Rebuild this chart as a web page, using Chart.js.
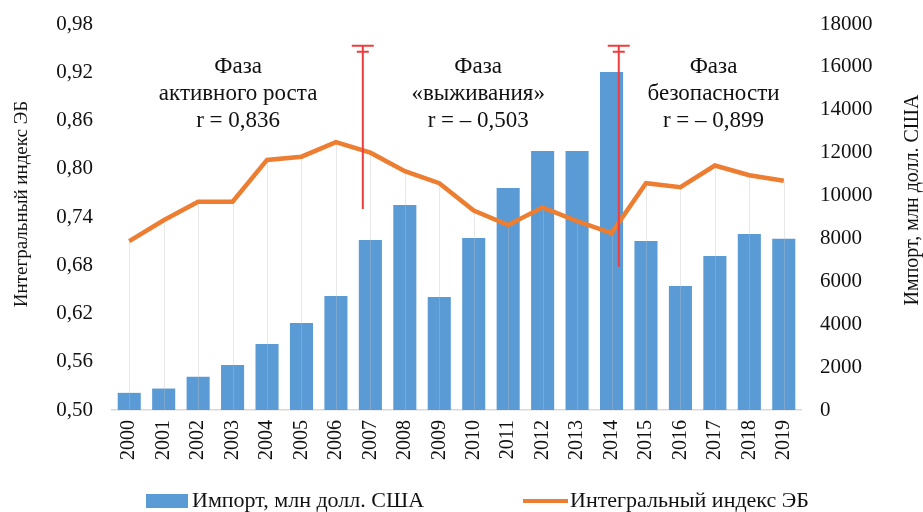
<!DOCTYPE html>
<html>
<head>
<meta charset="utf-8">
<script src="https://cdn.jsdelivr.net/npm/chart.js"></script>
<style>
    body { margin: 0; padding: 0; background: #fff; }
    #wrap { width: 923px; height: 512px; }
</style>
</head>
<body>
<div id="wrap"><canvas id="chart" width="923" height="512"></canvas></div>
<script>
const years = ['2000', '2001', '2002', '2003', '2004', '2005', '2006', '2007', '2008', '2009',
               '2010', '2011', '2012', '2013', '2014', '2015', '2016', '2017', '2018', '2019'];
// Импорт, млн долл. США (right axis)
const imports = [800, 1000, 1550, 2100, 3080, 4060, 5320, 7930, 9560, 5270,
                 8020, 10350, 12080, 12080, 15760, 7880, 5780, 7180, 8210, 7980];
// Интегральный индекс ЭБ (left axis)
const indexEB = [0.710, 0.736, 0.759, 0.759, 0.811, 0.815, 0.833, 0.820, 0.797, 0.782,
                 0.748, 0.730, 0.752, 0.735, 0.720, 0.782, 0.777, 0.804, 0.792, 0.785];

// phase captions: centre (category index) and lines
const phaseCenters = [3.16, 10.13, 16.96];
const phaseLines = [
    ['Фаза', 'активного роста', 'r = 0,836'],
    ['Фаза', '«выживания»', 'r = – 0,503'],
    ['Фаза', 'безопасности', 'r = – 0,899']
];
// red phase borders: category index, top and bottom in index units
const borderAt = [6.78, 14.21];
const borderTop = [0.953, 0.953];
const borderBottom = [0.750, 0.678];

const serif = '"Liberation Serif", "Times New Roman", serif';
const barColor = '#5B9BD5';
const lineColor = '#ED7D31';

// Draws drop lines, phase borders, captions, axis titles and legend
const extras = {
    id: 'extras',
    afterDatasetDraw(chart, args) {
        if (args.index !== 1) return;
        const ctx = chart.ctx, x = chart.scales.x, yL = chart.scales.yL;
        ctx.save();
        ctx.strokeStyle = 'rgba(190,190,190,0.35)';
        ctx.lineWidth = 1;
        indexEB.forEach((v, i) => {
            const px = Math.round(x.getPixelForValue(i)) + 0.5;
            ctx.beginPath();
            ctx.moveTo(px, yL.getPixelForValue(v));
            ctx.lineTo(px, chart.chartArea.bottom);
            ctx.stroke();
        });
        ctx.restore();
    },
    afterDraw(chart) {
        const ctx = chart.ctx, x = chart.scales.x, yL = chart.scales.yL;
        const area = chart.chartArea;
        ctx.save();

        // red borders between phases
        ctx.strokeStyle = '#F03C3C';
        ctx.lineWidth = 2;
        borderAt.forEach((b, i) => {
            const px = x.getPixelForValue(b);
            const top = yL.getPixelForValue(borderTop[i]);
            ctx.beginPath();
            ctx.moveTo(px, top);
            ctx.lineTo(px, yL.getPixelForValue(borderBottom[i]));
            ctx.moveTo(px - 11, top);
            ctx.lineTo(px + 11, top);
            ctx.moveTo(px - 6, top + 6);
            ctx.lineTo(px + 6, top + 6);
            ctx.stroke();
        });

        // phase captions
        ctx.fillStyle = '#111';
        ctx.font = '23px ' + serif;
        ctx.textAlign = 'center';
        ctx.textBaseline = 'alphabetic';
        phaseLines.forEach((lines, i) => {
            const px = x.getPixelForValue(phaseCenters[i]);
            lines.forEach((t, j) => ctx.fillText(t, px, area.top + 49 + j * 27));
        });

        // axis titles (both read bottom to top)
        ctx.font = '19px ' + serif;
        ctx.textBaseline = 'middle';
        ctx.save();
        ctx.translate(22, 204);
        ctx.rotate(-Math.PI / 2);
        ctx.fillText('Интегральный индекс ЭБ', 0, 0);
        ctx.restore();
        ctx.font = '20px ' + serif;
        ctx.save();
        ctx.translate(913, 200);
        ctx.rotate(-Math.PI / 2);
        ctx.fillText('Импорт, млн долл. США', 0, 0);
        ctx.restore();

        // legend
        const ly = 501;
        ctx.font = '22px ' + serif;
        ctx.textAlign = 'left';
        ctx.fillStyle = barColor;
        ctx.fillRect(146, ly - 7, 42, 14);
        ctx.fillStyle = '#111';
        ctx.fillText(chart.data.datasets[1].label, 192, ly);
        ctx.strokeStyle = lineColor;
        ctx.lineWidth = 4;
        ctx.beginPath();
        ctx.moveTo(523, ly);
        ctx.lineTo(568, ly);
        ctx.stroke();
        ctx.fillText(chart.data.datasets[0].label, 570, ly);
        ctx.restore();
    }
};

// fixed axis widths, no extra vertical padding from tick labels
function fitY(width) {
    return s => {
        s.width = width;
        s.paddingTop = 0;
        s.paddingBottom = 0;
    };
}

new Chart(document.getElementById('chart'), {
    type: 'bar',
    data: {
        labels: years,
        datasets: [
            {
                type: 'line',
                label: 'Интегральный индекс ЭБ',
                data: indexEB,
                yAxisID: 'yL',
                borderColor: lineColor,
                backgroundColor: lineColor,
                borderWidth: 4.5,
                pointRadius: 0,
                tension: 0,
                order: 0
            },
            {
                type: 'bar',
                label: 'Импорт, млн долл. США',
                data: imports,
                yAxisID: 'yR',
                backgroundColor: barColor,
                categoryPercentage: 1,
                barPercentage: 0.67,
                order: 1
            }
        ]
    },
    options: {
        responsive: false,
        animation: false,
        layout: { padding: { top: 24, bottom: 40, left: 0, right: 0 } },
        plugins: { legend: { display: false }, tooltip: { enabled: false } },
        scales: {
            x: {
                grid: { display: false, drawTicks: false },
                border: { display: true, color: '#D9D9D9', width: 1.5 },
                ticks: {
                    autoSkip: false, minRotation: 90, maxRotation: 90, padding: 10,
                    color: '#111', font: { family: serif, size: 20 }
                },
                afterFit(s) { s.height = 62; s.paddingLeft = 0; s.paddingRight = 0; }
            },
            yL: {
                position: 'left',
                min: 0.5, max: 0.98,
                grid: { display: false, drawTicks: false },
                border: { display: false },
                ticks: {
                    stepSize: 0.06, padding: 19, color: '#111',
                    font: { family: serif, size: 21 },
                    callback: v => v.toFixed(2).replace('.', ',')
                },
                afterFit: fitY(112)
            },
            yR: {
                position: 'right',
                min: 0, max: 18000,
                grid: { display: false, drawTicks: false },
                border: { display: false },
                ticks: {
                    stepSize: 2000, padding: 19, color: '#111',
                    font: { family: serif, size: 21 },
                    callback: v => String(v)
                },
                afterFit: fitY(122)
            }
        }
    },
    plugins: [extras]
});
</script>
</body>
</html>
